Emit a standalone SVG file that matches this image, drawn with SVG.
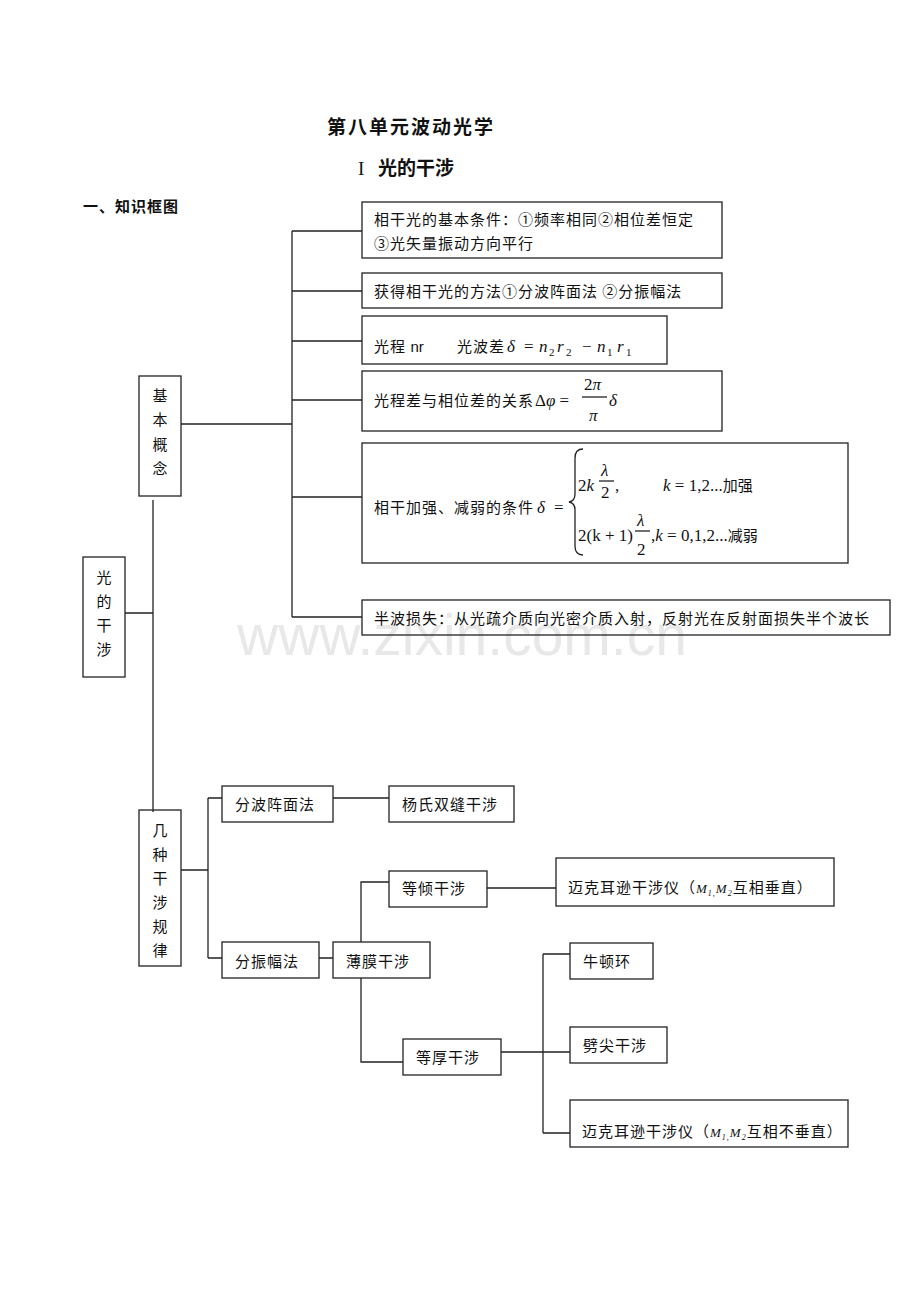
<svg xmlns="http://www.w3.org/2000/svg" width="920" height="1302" viewBox="0 0 920 1302">
<style>
.bx{fill:none;stroke:#222;stroke-width:1.3}
.ln{fill:none;stroke:#222;stroke-width:1.3}
.t{font-family:"Noto Sans CJK SC",sans-serif;font-size:15px;letter-spacing:1px;fill:#111}
.tv{font-family:"Noto Sans CJK SC",sans-serif;font-size:15px;fill:#111;text-anchor:middle}
.m{font-family:"Liberation Serif",serif;font-size:17px;fill:#111}
.mi{font-family:"Liberation Serif",serif;font-size:17px;font-style:italic;fill:#111}
.sub{font-family:"Liberation Serif",serif;font-size:11px;fill:#111}
.h{font-family:"Noto Sans CJK SC",sans-serif;font-weight:bold;fill:#111}
</style>
<rect width="920" height="1302" fill="#fff"/>
<text x="462" y="655" font-family="Liberation Sans,sans-serif" font-size="57" fill="#e8e8e8" text-anchor="middle">www.zixin.com.cn</text>
<text class="h" x="411" y="134" font-size="19" text-anchor="middle" letter-spacing="2">第八单元波动光学</text>
<text x="358" y="175" font-family="Liberation Serif,serif" font-size="19" fill="#111">I</text>
<text class="h" x="378" y="175" font-size="19">光的干涉</text>
<text class="h" x="83" y="212" font-size="15" letter-spacing="1">一、知识框图</text>
<g id="connectors">
<path class="ln" d="M292 231V617M292 231H362M292 291H362M292 341H362M292 400H362M292 497H362M292 617H362M181 424H292"/>
<path class="ln" d="M153 500V812M125 613H153"/>
<path class="ln" d="M181 870H208M208 798V958M208 798H222M208 958H222M333 798H389M319 958H333"/>
<path class="ln" d="M361 942V882H389M487 888H556M361 978V1062H403M501 1052H570M543 954V1133M543 954H570M543 1133H570"/>
</g>
<g id="n_root"><rect class="bx" x="83" y="557" width="42" height="120"/>
<text class="tv" x="104" y="583">光</text><text class="tv" x="104" y="607">的</text><text class="tv" x="104" y="631">干</text><text class="tv" x="104" y="655">涉</text></g>
<g id="n_basic"><rect class="bx" x="139" y="376" width="42" height="120"/>
<text class="tv" x="160" y="401">基</text><text class="tv" x="160" y="425">本</text><text class="tv" x="160" y="450">概</text><text class="tv" x="160" y="474">念</text></g>
<g id="n_rules"><rect class="bx" x="139" y="810" width="42" height="156"/>
<text class="tv" x="160" y="836">几</text><text class="tv" x="160" y="860">种</text><text class="tv" x="160" y="884">干</text><text class="tv" x="160" y="908">涉</text><text class="tv" x="160" y="932">规</text><text class="tv" x="160" y="956">律</text></g>
<g id="n_cond"><rect class="bx" x="362" y="202" width="360" height="56"/>
<text class="t" x="374" y="225">相干光的基本条件：①频率相同②相位差恒定</text>
<text class="t" x="374" y="249">③光矢量振动方向平行</text></g>
<g id="n_method"><rect class="bx" x="362" y="273" width="360" height="35"/>
<text class="t" x="374" y="297">获得相干光的方法①分波阵面法 ②分振幅法</text></g>
<g id="n_path"><rect class="bx" x="362" y="316" width="305" height="48"/>
<text class="t" x="374" y="352">光程 <tspan font-family="Liberation Sans,sans-serif" letter-spacing="0">nr</tspan></text>
<text class="t" x="457" y="352">光波差</text>
<text class="mi" x="507" y="352" font-size="19">δ</text><text class="m" x="524" y="352">=</text>
<text class="mi" x="539" y="352" font-size="18">n</text><text class="sub" x="549" y="356">2</text>
<text class="mi" x="557" y="352" font-size="18">r</text><text class="sub" x="566" y="356">2</text>
<text class="m" x="582" y="352">−</text>
<text class="mi" x="597" y="352" font-size="18">n</text><text class="sub" x="607" y="356">1</text>
<text class="mi" x="617" y="352" font-size="18">r</text><text class="sub" x="626" y="356">1</text></g>
<g id="n_phase"><rect class="bx" x="362" y="371" width="360" height="60"/>
<text class="t" x="374" y="406">光程差与相位差的关系</text>
<text class="m" x="535" y="406">Δ<tspan font-style="italic">φ</tspan> =</text>
<text class="m" x="584" y="390">2<tspan font-style="italic">π</tspan></text>
<line class="ln" x1="582" y1="397" x2="607" y2="397" stroke-width="1"/>
<text class="mi" x="589" y="421">π</text>
<text class="mi" x="609" y="406" font-size="19">δ</text></g>
<g id="n_cond2"><rect class="bx" x="362" y="443" width="486" height="120"/>
<text class="t" x="374" y="513">相干加强、减弱的条件</text>
<text class="mi" x="537" y="513" font-size="19">δ</text><text class="m" x="554" y="513">=</text>
<path class="ln" d="M583 449Q575 449 575 458L575 494Q575 501 569 502Q575 503 575 510L575 546Q575 555 583 555" stroke-width="1.2"/>
<text class="m" x="578" y="491">2<tspan font-style="italic">k</tspan></text>
<text class="mi" x="601" y="476">λ</text><line class="ln" x1="599" y1="481" x2="614" y2="481" stroke-width="1"/><text class="m" x="601" y="498">2</text>
<text class="m" x="615" y="491">,</text>
<text class="m" x="663" y="491"><tspan font-style="italic">k</tspan> = 1,2...<tspan font-family="Noto Sans CJK SC,sans-serif" font-size="15">加强</tspan></text>
<text class="m" x="578" y="541">2(k + 1)</text>
<text class="mi" x="637" y="526">λ</text><line class="ln" x1="635" y1="531" x2="650" y2="531" stroke-width="1"/><text class="m" x="637" y="555">2</text>
<text class="m" x="651" y="541">,<tspan font-style="italic">k</tspan> = 0,1,2...<tspan font-family="Noto Sans CJK SC,sans-serif" font-size="15">减弱</tspan></text></g>
<g id="n_halfwave"><rect class="bx" x="362" y="600" width="528" height="35"/>
<text class="t" x="374" y="624">半波损失：从光疏介质向光密介质入射，反射光在反射面损失半个波长</text></g>
<g id="n_wavefront"><rect class="bx" x="222" y="786" width="111" height="36"/><text class="t" x="235" y="810">分波阵面法</text></g>
<g id="n_young"><rect class="bx" x="389" y="786" width="125" height="36"/><text class="t" x="402" y="810">杨氏双缝干涉</text></g>
<g id="n_amp"><rect class="bx" x="222" y="942" width="97" height="36"/><text class="t" x="235" y="967">分振幅法</text></g>
<g id="n_film"><rect class="bx" x="333" y="942" width="97" height="36"/><text class="t" x="346" y="967">薄膜干涉</text></g>
<g id="n_incl"><rect class="bx" x="389" y="871" width="98" height="36"/><text class="t" x="402" y="894">等倾干涉</text></g>
<g id="n_mich1"><rect class="bx" x="556" y="858" width="278" height="48"/>
<text class="t" x="568" y="893">迈克耳逊干涉仪（<tspan font-family="Liberation Serif,serif" font-style="italic" font-size="13" letter-spacing="1">M<tspan font-size="8" dy="3">1,</tspan><tspan dy="-3">M</tspan><tspan font-size="8" dy="3">2</tspan></tspan><tspan dy="-3">互相垂直）</tspan></text></g>
<g id="n_thick"><rect class="bx" x="403" y="1039" width="98" height="36"/><text class="t" x="416" y="1063">等厚干涉</text></g>
<g id="n_newton"><rect class="bx" x="570" y="943" width="83" height="36"/><text class="t" x="583" y="967">牛顿环</text></g>
<g id="n_wedge"><rect class="bx" x="570" y="1027" width="97" height="36"/><text class="t" x="583" y="1051">劈尖干涉</text></g>
<g id="n_mich2"><rect class="bx" x="570" y="1100" width="278" height="47"/>
<text class="t" x="582" y="1137">迈克耳逊干涉仪（<tspan font-family="Liberation Serif,serif" font-style="italic" font-size="13" letter-spacing="1">M<tspan font-size="8" dy="3">1,</tspan><tspan dy="-3">M</tspan><tspan font-size="8" dy="3">2</tspan></tspan><tspan dy="-3">互相不垂直）</tspan></text></g>
</svg>
